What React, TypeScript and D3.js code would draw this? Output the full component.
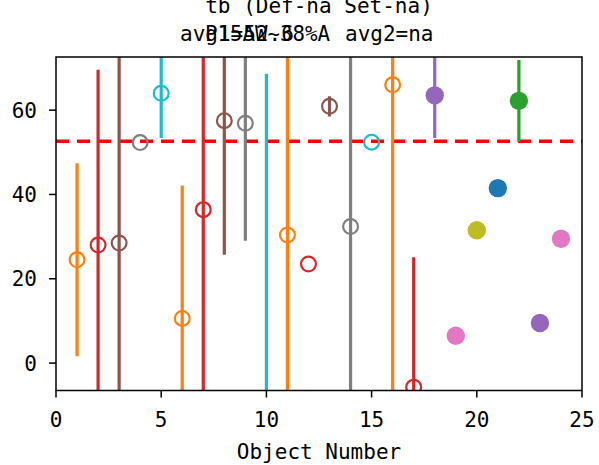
import React from "react";
import * as d3 from "d3";

const objectNumbers = [1, 2, 3, 4, 5, 6, 7, 8, 9, 10, 11, 12, 13, 14, 15, 16, 17, 18, 19, 20, 21, 22, 23, 24];
const values = [24.5, 28.0, 28.5, 52.3, 64.0, 10.6, 36.4, 57.5, 56.9, -12.0, 30.4, 23.5, 60.9, 32.4, 52.4, 66.0, -5.7, 63.5, 6.5, 31.5, 41.5, 62.2, 9.5, 29.5];
const errors = [22.9, 41.6, 48, 0, 10.6, 31.5, 45, 31.8, 27.9, 80.6, 45, 0, 2.4, 42, 0, 75, 30.8, 10.1, 0, 0, 0, 9.7, 0, 0];
const colors = [
  "#ff7f0e", "#d62728", "#8c564b", "#7f7f7f", "#17becf", "#ff7f0e", "#d62728", "#8c564b",
  "#7f7f7f", "#17becf", "#ff7f0e", "#d62728", "#8c564b", "#7f7f7f", "#17becf", "#ff7f0e",
  "#d62728", "#9467bd", "#e377c2", "#bcbd22", "#1f77b4", "#2ca02c", "#9467bd", "#e377c2",
];
const filled = [false, false, false, false, false, false, false, false, false, false, false, false, false, false, false, false, false, true, true, true, true, true, true, true];
const avgLine = 52.6;
const xTicks = [0, 5, 10, 15, 20, 25];
const yTicks = [0, 20, 40, 60];
const titleLine1 = "tb (Def-na Set-na)";
const titleLine2a = "avg1=52.6";
const titleLine2b = "avg2=na";
const titleOverlay = "P15AW~38%A";
const xLabel = "Object Number";

const W = 599, H = 465;
const L = 56, R = 582, T = 57, B = 390.5;
const FONT = "'DejaVu Sans Mono', 'Liberation Mono', monospace";

export default function App() {
  const x = d3.scaleLinear().domain([0, 25]).range([L, R]);
  const y = d3.scaleLinear().domain([-6.5, 72.6]).range([B, T]);
  return (
    <svg width={W} height={H} style={{ position: "absolute", left: 0, top: 0, background: "#fff" }} fontFamily={FONT}>
      <defs>
        <clipPath id="plotclip">
          <rect x={L} y={T} width={R - L} height={B - T} />
        </clipPath>
      </defs>
      <g clipPath="url(#plotclip)">
        <line x1={L} x2={R} y1={y(avgLine)} y2={y(avgLine)} stroke="#ff0000" strokeWidth={3.6} strokeDasharray="13,8" />
        {objectNumbers.map((n, i) =>
          errors[i] > 0 ? (
            <line key={"e" + i} x1={x(n)} x2={x(n)} y1={y(values[i] - errors[i])} y2={y(values[i] + errors[i])} stroke={colors[i]} strokeWidth={3.2} />
          ) : null
        )}
        {objectNumbers.map((n, i) =>
          filled[i] ? (
            <circle key={"m" + i} cx={x(n)} cy={y(values[i])} r={9.2} fill={colors[i]} />
          ) : (
            <circle key={"m" + i} cx={x(n)} cy={y(values[i])} r={7.4} fill="none" stroke={colors[i]} strokeWidth={2.2} />
          )
        )}
      </g>
      <rect x={L} y={T} width={R - L} height={B - T} fill="none" stroke="#000" strokeWidth={1.5} />
      {xTicks.map((t) => (
        <g key={"x" + t}>
          <line x1={x(t)} x2={x(t)} y1={B} y2={B + 7} stroke="#000" strokeWidth={1.5} />
          <text x={x(t)} y={427} textAnchor="middle" fontSize={21}>{t}</text>
        </g>
      ))}
      {yTicks.map((t) => (
        <g key={"y" + t}>
          <line x1={L - 7} x2={L} y1={y(t)} y2={y(t)} stroke="#000" strokeWidth={1.5} />
          <text x={37} y={y(t)} dy="0.36em" textAnchor="end" fontSize={21}>{t}</text>
        </g>
      ))}
      <text x={(L + R) / 2} y={459} textAnchor="middle" fontSize={21}>{xLabel}</text>
      <text x={(L + R) / 2} y={13} textAnchor="middle" fontSize={21}>{titleLine1}</text>
      <text x={180} y={41} fontSize={21}>{titleLine2a}</text>
      <text x={345} y={41} fontSize={21}>{titleLine2b}</text>
      <text x={205} y={41} fontSize={21} textLength={125} lengthAdjust="spacingAndGlyphs">{titleOverlay}</text>
    </svg>
  );
}
